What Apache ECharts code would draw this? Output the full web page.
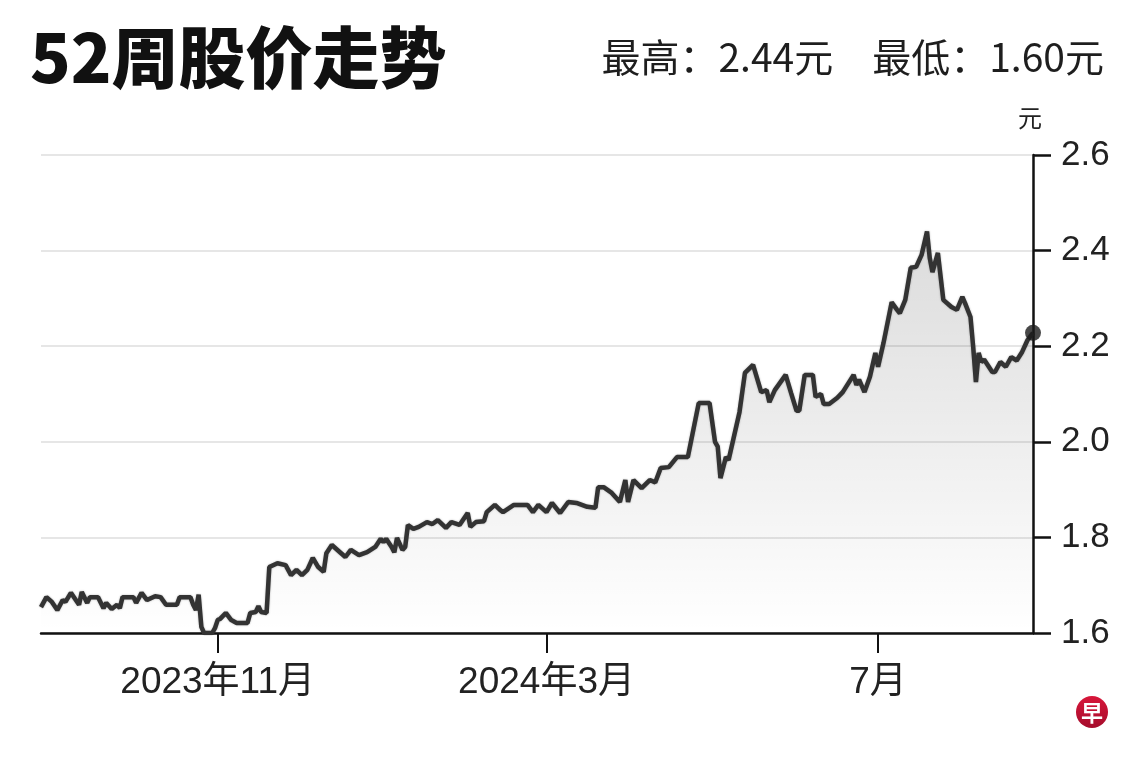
<!DOCTYPE html>
<html>
<head>
<meta charset="utf-8">
<script src="https://cdn.jsdelivr.net/npm/echarts@6/dist/echarts.min.js"></script>
<style>
  html, body { margin: 0; padding: 0; background: #fff; }
  #chart { width: 1140px; height: 761px; }
</style>
</head>
<body>
<div id="chart"></div>
<script>
// 日期
const dates = [
  '2023-08-28','2023-08-30','2023-09-01','2023-09-03','2023-09-05','2023-09-06','2023-09-08','2023-09-11','2023-09-12','2023-09-14',
  '2023-09-15','2023-09-18','2023-09-20','2023-09-21','2023-09-23','2023-09-25','2023-09-26','2023-09-27','2023-10-01','2023-10-02',
  '2023-10-04','2023-10-06','2023-10-09','2023-10-11','2023-10-13','2023-10-17','2023-10-18','2023-10-22','2023-10-23','2023-10-24',
  '2023-10-25','2023-10-26','2023-10-27','2023-10-30','2023-10-31','2023-11-01','2023-11-02','2023-11-04','2023-11-06','2023-11-08',
  '2023-11-12','2023-11-13','2023-11-15','2023-11-16','2023-11-17','2023-11-19','2023-11-20','2023-11-23','2023-11-26','2023-11-28',
  '2023-11-30','2023-12-02','2023-12-04','2023-12-06','2023-12-08','2023-12-10','2023-12-11','2023-12-13','2023-12-16','2023-12-18',
  '2023-12-20','2023-12-23','2023-12-26','2023-12-29','2023-12-31','2024-01-01','2024-01-02','2024-01-04','2024-01-05','2024-01-06',
  '2024-01-08','2024-01-09','2024-01-10','2024-01-12','2024-01-14','2024-01-17','2024-01-19','2024-01-21','2024-01-24','2024-01-26',
  '2024-01-29','2024-02-01','2024-02-02','2024-02-04','2024-02-07','2024-02-08','2024-02-11','2024-02-13','2024-02-14','2024-02-18',
  '2024-02-23','2024-02-25','2024-02-27','2024-03-01','2024-03-03','2024-03-06','2024-03-09','2024-03-12','2024-03-16','2024-03-19',
  '2024-03-20','2024-03-22','2024-03-25','2024-03-28','2024-03-30','2024-03-31','2024-04-02','2024-04-05','2024-04-08','2024-04-10',
  '2024-04-12','2024-04-15','2024-04-18','2024-04-22','2024-04-26','2024-04-30','2024-05-02','2024-05-03','2024-05-04','2024-05-06',
  '2024-05-07','2024-05-11','2024-05-13','2024-05-16','2024-05-19','2024-05-21','2024-05-22','2024-05-24','2024-05-28','2024-05-30',
  '2024-06-01','2024-06-02','2024-06-04','2024-06-07','2024-06-08','2024-06-10','2024-06-11','2024-06-13','2024-06-16','2024-06-18',
  '2024-06-22','2024-06-23','2024-06-24','2024-06-26','2024-06-28','2024-06-30','2024-07-01','2024-07-03','2024-07-06','2024-07-08',
  '2024-07-09','2024-07-11','2024-07-13','2024-07-15','2024-07-17','2024-07-19','2024-07-20','2024-07-21','2024-07-23','2024-07-25',
  '2024-07-28','2024-07-30','2024-08-01','2024-08-02','2024-08-04','2024-08-05','2024-08-06','2024-08-07','2024-08-08','2024-08-09',
  '2024-08-12','2024-08-13','2024-08-15','2024-08-17','2024-08-19','2024-08-21','2024-08-23','2024-08-25','2024-08-27'
]

// 股价（元）
const prices = [
  1.654,1.675,1.665,1.648,1.669,1.665,1.684,1.659,1.686,1.663,
  1.675,1.675,1.652,1.663,1.650,1.659,1.652,1.675,1.675,1.663,
  1.684,1.669,1.677,1.675,1.659,1.659,1.675,1.675,1.659,1.648,
  1.680,1.613,1.600,1.600,1.610,1.627,1.630,1.642,1.627,1.621,
  1.621,1.642,1.644,1.656,1.644,1.642,1.738,1.746,1.742,1.721,
  1.732,1.721,1.732,1.757,1.738,1.728,1.767,1.784,1.769,1.759,
  1.774,1.763,1.769,1.780,1.797,1.790,1.797,1.780,1.769,1.799,
  1.774,1.780,1.826,1.818,1.822,1.832,1.828,1.836,1.820,1.832,
  1.826,1.851,1.822,1.832,1.834,1.853,1.868,1.857,1.853,1.868,
  1.868,1.853,1.868,1.853,1.872,1.851,1.874,1.872,1.864,1.862,
  1.905,1.905,1.893,1.874,1.920,1.874,1.920,1.903,1.920,1.915,
  1.945,1.947,1.968,1.968,2.081,2.081,2.000,1.990,1.924,1.968,
  1.962,2.062,2.144,2.161,2.104,2.108,2.083,2.108,2.140,2.102,
  2.065,2.065,2.140,2.140,2.094,2.100,2.079,2.079,2.092,2.104,
  2.140,2.119,2.130,2.104,2.136,2.186,2.157,2.207,2.292,2.276,
  2.269,2.297,2.364,2.366,2.391,2.440,2.385,2.355,2.395,2.297,
  2.282,2.276,2.303,2.290,2.261,2.198,2.125,2.186,2.167,2.172,
  2.146,2.146,2.167,2.157,2.177,2.170,2.188,2.213,2.228
]

// x轴刻度
const tickDates = ['2023-11-01', '2024-03-01', '2024-07-01']
const tickLabels = ['2023年11月', '2024年3月', '7月']

// y轴刻度
const yMin = 1.6
const yMax = 2.6
const yStep = 0.2

const cjk = 'Noto Sans CJK SC'
const latin = 'Liberation Sans, Noto Sans CJK SC'

const toTime = d => +echarts.time.parse(d)
const times = dates.map(toTime)
const tickTimes = tickDates.map(toTime)
const seriesData = times.map((t, i) => [t, prices[i]])
const last = seriesData[seriesData.length - 1]
const hi = Math.max(...prices).toFixed(2)
const lo = Math.min(...prices).toFixed(2)

const chart = echarts.init(document.getElementById('chart'))

let options = {
  animation: false,
  backgroundColor: '#fff',
  title: [
    {
      text: '52周股价走势',
      left: 25,
      top: 19,
      textStyle: { fontFamily: cjk, fontSize: 67, fontWeight: 900, color: '#111' }
    },
    {
      text: '最高：' + hi + '元　最低：' + lo + '元',
      right: 31,
      top: 33,
      textStyle: { fontFamily: cjk, fontSize: 39, fontWeight: 'normal', color: '#1e1e1e' }
    }
  ],
  grid: {
    left: 41,
    right: 107,
    top: 155,
    bottom: 128,
    containLabel: false,
    outerBoundsMode: 'none'
  },
  xAxis: {
    type: 'value',
    min: times[0],
    max: times[times.length - 1],
    axisLine: { show: true, onZero: false, lineStyle: { color: '#111', width: 2.5 } },
    axisTick: {
      show: true,
      customValues: tickTimes,
      length: 20,
      lineStyle: { color: '#111', width: 2 }
    },
    axisLabel: {
      customValues: tickTimes,
      margin: 31,
      fontFamily: latin,
      fontSize: 37,
      color: '#222',
      formatter: function (v) {
        const i = tickTimes.indexOf(+v)
        return i >= 0 ? tickLabels[i] : ''
      }
    },
    splitLine: { show: false }
  },
  yAxis: {
    type: 'value',
    position: 'right',
    min: yMin,
    max: yMax,
    interval: yStep,
    name: '元',
    nameLocation: 'end',
    nameGap: 25,
    nameTextStyle: { fontFamily: cjk, fontSize: 24, color: '#222', align: 'center', padding: [0, 6, 0, 0] },
    axisLine: { show: true, lineStyle: { color: '#111', width: 2.5 } },
    axisTick: { show: true, length: 18, lineStyle: { color: '#111', width: 2.5 } },
    axisLabel: {
      margin: 28,
      fontFamily: latin,
      fontSize: 35,
      color: '#222',
      formatter: v => v.toFixed(1)
    },
    splitLine: { show: true, lineStyle: { color: '#e6e6e6', width: 2 } }
  },
  series: [
    {
      type: 'line',
      data: seriesData,
      showSymbol: false,
      symbol: 'none',
      lineStyle: { color: '#333', width: 4.5, shadowColor: 'rgba(0,0,0,0.3)', shadowBlur: 2 },
      areaStyle: {
        origin: 'start',
        color: new echarts.graphic.LinearGradient(0, 0, 0, 1, [
          { offset: 0, color: 'rgba(0,0,0,0.2)' },
          { offset: 1, color: 'rgba(0,0,0,0)' }
        ])
      },
      z: 3
    },
    {
      // 最新价
      type: 'scatter',
      data: [last],
      symbolSize: 16,
      itemStyle: { color: '#1a1a1a' },
      z: 5
    }
  ],
  graphic: [
    {
      type: 'group',
      right: 32,
      bottom: 33,
      children: [
        {
          type: 'circle',
          shape: { cx: 16, cy: 16, r: 16 },
          style: {
            fill: new echarts.graphic.LinearGradient(0, 0, 0, 1, [
              { offset: 0, color: '#d8163a' },
              { offset: 1, color: '#a50d2c' }
            ])
          }
        },
        {
          type: 'text',
          x: 16,
          y: 17,
          style: {
            text: '早',
            fill: '#fff',
            font: 'bold 22px "Noto Sans CJK SC"',
            align: 'center',
            verticalAlign: 'middle'
          }
        }
      ]
    }
  ]
}

chart.setOption(options)

window.addEventListener('resize', function () {
  chart.resize()
})
</script>
</body>
</html>
